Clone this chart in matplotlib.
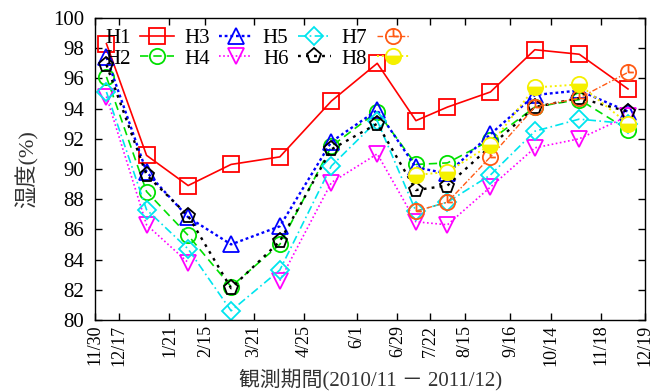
import datetime as dt
import numpy as np
import matplotlib
matplotlib.use("Agg")
import matplotlib.pyplot as plt
from matplotlib.path import Path

plt.rcParams['font.family'] = ['Liberation Serif', 'Noto Sans CJK JP']

# 観測日
dates = ["2010-12-08", "2011-01-05", "2011-02-03", "2011-03-05", "2011-04-08",
         "2011-05-14", "2011-06-15", "2011-07-12", "2011-08-03", "2011-09-02",
         "2011-10-03", "2011-11-03", "2011-12-07"]

nan = np.nan
H1 = [98.3, 90.9, 88.9, 90.3, 90.8, 94.5, 97.0, 93.2, 94.1, 95.1, 97.9, 97.6, 95.3]
H2 = [96.1, 88.5, 85.6, 82.2, 85.0, 91.5, 93.8, 90.3, 90.4, 91.9, 94.1, 94.6, 92.6]
H3 = [97.4, 89.8, 86.8, 85.0, 86.2, 91.8, 93.9, 90.1, 89.7, 92.3, 94.9, 95.2, 93.8]
H4 = [94.8, 86.3, 83.8, nan, 82.6, 89.1, 91.0, 86.5, 86.3, 88.8, 91.4, 92.0, 93.5]
H5 = [95.1, 87.3, 84.7, 80.6, 83.3, 90.2, 93.2, 87.2, 87.8, 89.6, 92.5, 93.3, 93.0]
H6 = [96.9, 89.6, 86.9, 82.1, 85.2, 91.3, 93.0, 88.6, 88.9, 91.5, 94.1, 94.7, 93.8]
H7 = [nan, nan, nan, nan, nan, nan, nan, 87.2, 87.8, 90.8, 94.1, 94.7, 96.4]
H8 = [nan, nan, nan, nan, nan, nan, nan, 89.6, 89.8, 91.6, 95.4, 95.6, 93.0]

tick_dates = ["2010-11-30", "2010-12-17", "2011-01-21", "2011-02-15", "2011-03-21",
              "2011-04-25", "2011-06-01", "2011-06-29", "2011-07-22", "2011-08-15",
              "2011-09-16", "2011-10-14", "2011-11-18", "2011-12-19"]
tick_labels = ["11/30", "12/17", "1/21", "2/15", "3/21", "4/25", "6/1", "6/29",
               "7/22", "8/15", "9/16", "10/14", "11/18", "12/19"]

x = [dt.datetime.strptime(d, "%Y-%m-%d") for d in dates]
xt = [dt.datetime.strptime(d, "%Y-%m-%d") for d in tick_dates]

# 時計の針付きの丸マーカー
circ = Path.unit_circle()
clock = Path.make_compound_path(
    circ,
    Path([[0, 0], [0, 1]], [Path.MOVETO, Path.LINETO]),
    Path([[0, 0], [0.7, 0]], [Path.MOVETO, Path.LINETO]),
)

fig = plt.figure(figsize=(6.55, 3.92), dpi=100)
ax = fig.add_axes([0.145, 0.184, 0.840, 0.770])

ms = 11
mew = 1.3
lw = 1.2
series = [
    ("H1", H1, dict(color="#ff0000", ls="-", marker="s", ms=ms)),
    ("H2", H2, dict(color="#00e000", ls=(0, (5, 3)), marker="o", ms=ms)),
    ("H3", H3, dict(color="#0000ff", ls=(0, (1.2, 1.2)), marker="^", ms=ms, lw=1.7)),
    ("H4", H4, dict(color="#ff00ff", ls=(0, (1, 1.5)), marker="v", ms=ms)),
    ("H5", H5, dict(color="#00e5ee", ls=(0, (5, 2, 1, 2)), marker="D", ms=9)),
    ("H6", H6, dict(color="#000000", ls=(0, (1.2, 2.2)), marker="p", ms=ms, lw=1.7)),
    ("H7", H7, dict(color="#ff5a14", ls=(0, (4, 1.5, 1, 1.5)), marker=clock, ms=ms, lw=1.0)),
    ("H8", H8, dict(color="#f5f000", ls=(0, (1, 1.5)), marker="o", ms=ms, lw=1.4,
                    fillstyle="bottom", markerfacecoloralt="white")),
]

for name, vals, st in series:
    kw = dict(lw=lw, mew=mew)
    kw.update(st)
    kw["mfc"] = kw["color"] if name == "H8" else "none"
    ax.plot(x, vals, label=name, **kw)

ax.set_xlim(xt[0], xt[-1])
ax.set_ylim(80, 100)
ax.set_yticks(np.arange(80, 101, 2))
ax.set_xticks(xt)
ax.set_xticklabels(tick_labels, rotation=90, fontsize=13)
ax.tick_params(axis="y", labelsize=15, pad=8)
ax.tick_params(direction="in", top=True, right=True, length=5, width=1)
for s in ax.spines.values():
    s.set_linewidth(1.0)

ax.set_ylabel("湿度(%)", fontsize=16, color="#333333", labelpad=10)
ax.set_xlabel("観測期間(2010/11 － 2011/12)", fontsize=15, color="#333333", labelpad=2)

ax.legend(loc="upper left", ncol=4, markerfirst=False, frameon=False, fontsize=15,
          handlelength=1.6, handletextpad=0.45, columnspacing=0.5,
          labelspacing=0.05, borderaxespad=0.1, bbox_to_anchor=(0.0, 1.0))

fig.savefig("out.png", dpi=100)
